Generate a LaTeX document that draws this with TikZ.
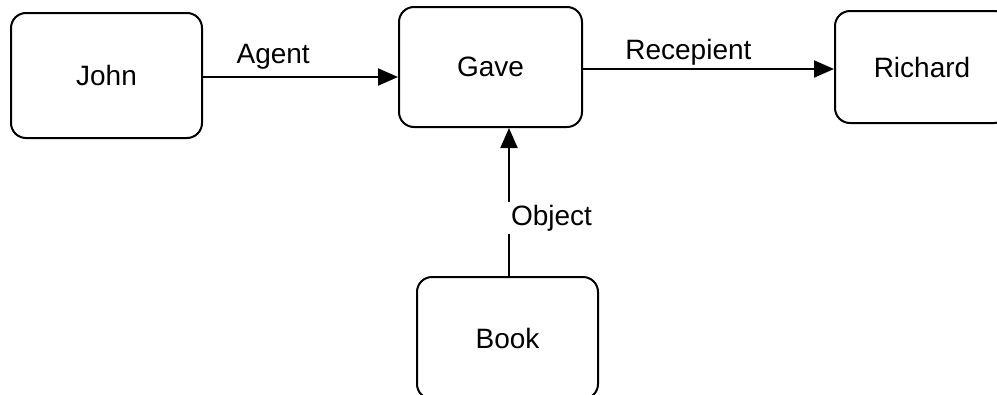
\documentclass[tikz,border=0pt]{standalone}
\usepackage{fontspec}
\setmainfont{Liberation Sans}
\usetikzlibrary{arrows.meta, positioning}

\begin{document}
\begin{tikzpicture} [
    x=1pt, y=1pt,
    font=\fontsize{28}{34}\selectfont,
    box/.style={rectangle, rounded corners=15pt, draw=black, line width=2pt, text centered},
    arrow/.style={-{Triangle[length=20pt, width=17pt]}, line width=2pt},
    rel/.style={inner xsep=4pt, inner ysep=3pt}
]

% Fix the frame to the reference size
\useasboundingbox (0,0) rectangle (997,-394);
\clip (0,0) rectangle (997,-394);

% Define all nodes first
\node[box, minimum width=191pt, minimum height=125pt] (john) at (106.5,-75.5) {John};
\node[box, minimum width=183pt, minimum height=120pt] (gave) at (490.5,-67) {Gave};
\node[box, minimum width=174pt, minimum height=112pt] (richard) at (922,-67) {Richard};
\node[box, minimum width=181pt, minimum height=122pt] (book) at (507.5,-338) {Book};

% Draw all arrows with their labels
\draw[arrow] (john.east |- 0,-77) -- (gave.west |- 0,-77)
    node[rel, pos=0.36, above=4pt] (agent) {Agent};
\draw[arrow] (gave.east |- 0,-69) -- (richard.west |- 0,-69)
    node[rel, pos=0.42, above=0pt] (recepient) {Recepient};
\draw[arrow] (book.north -| 509,0) -- (gave.south -| 509,0)
    node[rel, pos=0.39, anchor=west, fill=white, xshift=-3pt] (object) {Object};

\end{tikzpicture}
\end{document}
